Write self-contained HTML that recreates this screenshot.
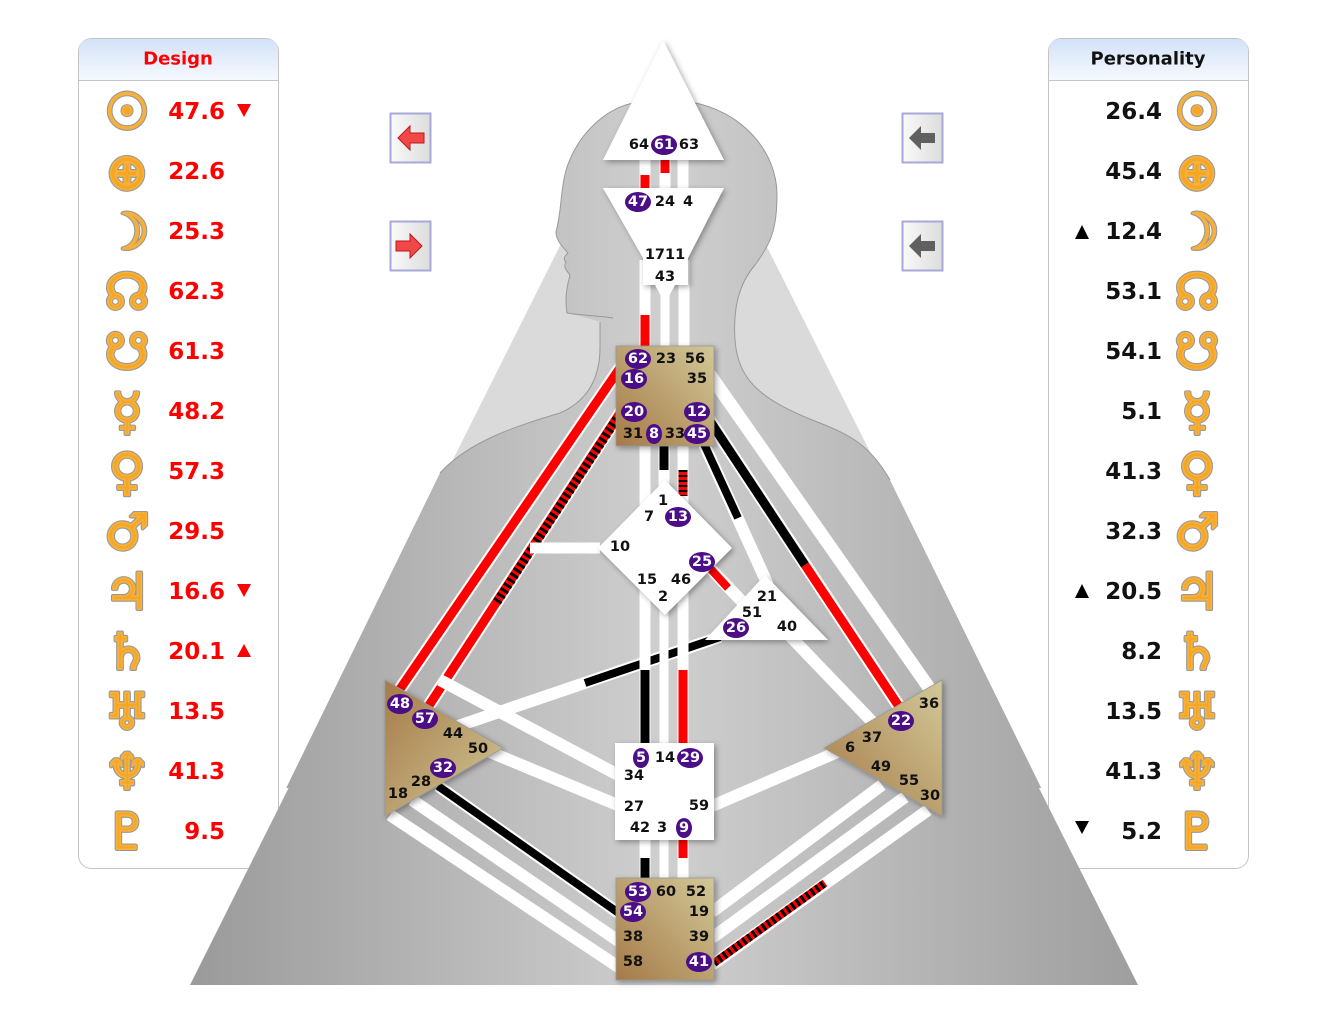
<!DOCTYPE html>
<html><head><meta charset="utf-8"><style>
html,body{margin:0;padding:0;background:#fff;}
svg{display:block;}
.g{font-family:"DejaVu Sans","Liberation Sans",sans-serif;font-weight:bold;font-size:14.5px;fill:#111;text-anchor:middle;dominant-baseline:central;}
.b{font-family:"DejaVu Sans","Liberation Sans",sans-serif;font-weight:bold;font-size:14.5px;fill:#fff;text-anchor:middle;dominant-baseline:central;}
.v{font-family:"DejaVu Sans","Liberation Sans",sans-serif;font-weight:bold;font-size:23px;dominant-baseline:central;}
.p{font-family:"DejaVu Sans",sans-serif;font-weight:bold;font-size:50px;text-anchor:middle;dominant-baseline:central;}
.po{fill:#999;stroke:#999;stroke-width:4;stroke-linejoin:round;}
.pi{fill:#f5a623;stroke:#f7b03a;stroke-width:1.8;stroke-linejoin:round;}
</style></head><body>
<svg width="1338" height="1017" viewBox="0 0 1338 1017" xmlns="http://www.w3.org/2000/svg">
<defs>
<linearGradient id="body" x1="0" x2="1" y1="0" y2="0" gradientUnits="userSpaceOnUse" gradientTransform="translate(190,0) scale(948,1)">
<stop offset="0" stop-color="#9a9a9a"/><stop offset="0.5" stop-color="#cfcfcf"/><stop offset="1" stop-color="#9e9e9e"/>
</linearGradient>
<linearGradient id="tan" x1="1" y1="0" x2="0" y2="1">
<stop offset="0" stop-color="#d2c898"/><stop offset="1" stop-color="#a57a48"/>
</linearGradient>
<linearGradient id="tanL" x1="0" y1="0" x2="1" y2="1">
<stop offset="0" stop-color="#a57a48"/><stop offset="1" stop-color="#d2c898"/>
</linearGradient>
<linearGradient id="tanR" x1="0" y1="1" x2="1" y2="0">
<stop offset="0" stop-color="#a57a48"/><stop offset="1" stop-color="#d2c898"/>
</linearGradient>
<linearGradient id="hdr" x1="0" x2="0" y1="0" y2="1">
<stop offset="0" stop-color="#d3e2f7"/><stop offset="1" stop-color="#f6f9ff"/>
</linearGradient>
<linearGradient id="btn" x1="0" x2="1"><stop offset="0" stop-color="#fafafa"/><stop offset="1" stop-color="#dcdcdc"/></linearGradient>
<filter id="sh" x="-30%" y="-30%" width="160%" height="160%"><feDropShadow dx="2" dy="2" stdDeviation="3" flood-color="#000" flood-opacity="0.35"/></filter>
<clipPath id="upper"><rect x="0" y="0" width="1338" height="788"/></clipPath>
<clipPath id="lower"><rect x="0" y="788" width="1338" height="300"/></clipPath>
</defs>

<g clip-path="url(#upper)">
<polygon points="190,985 663,40 1138,985" fill="#dadada"/>
<path d="M190,985 L440,473 C470,440 520,425 560,413 C590,400 600,375 600,347 L600,322 C590,318 578,316 567,313 C565,300 566,290 570,275 C566,270 563,266 566,262 C562,258 566,255 568,253 C562,246 556,240 556,232 C562,210 560,190 567,167 C580,130 610,105 640,102 L690,102 C740,110 777,150 777,195 C777,230 770,245 755,265 C738,285 733,310 735,340 C738,380 760,400 820,423 C850,435 870,445 890,480 L1138,985 Z" fill="url(#body)"/>
</g>
<path d="M440,473 C470,440 520,425 560,413 C590,400 600,375 600,347 L600,322 M613,318 C600,316 580,315 567,313 C565,300 566,290 570,275 C566,270 563,266 566,262 C562,258 566,255 568,253 C562,246 556,240 556,232 C562,210 560,190 567,167 C580,130 610,105 640,102 L690,102 C740,110 777,150 777,195 C777,230 770,245 755,265 C738,285 733,310 735,340 C738,380 760,400 820,423 C850,435 870,445 890,480" fill="none" stroke="#999" stroke-width="1"/>

<!-- panels -->
<rect x="78.5" y="38.5" width="200" height="830" rx="13" fill="#fff" stroke="#c4c4c4"/>
<path d="M79,80 L79,51 Q79,39 91,39 L266,39 Q278,39 278,51 L278,80 Z" fill="url(#hdr)"/>
<line x1="79" y1="80.5" x2="278" y2="80.5" stroke="#c4c4c4"/>
<text x="178" y="59" font-family="DejaVu Sans,sans-serif" font-weight="bold" font-size="18" fill="#f00" text-anchor="middle" dominant-baseline="central">Design</text>

<rect x="1048.5" y="38.5" width="200" height="830" rx="13" fill="#fff" stroke="#c4c4c4"/>
<path d="M1049,80 L1049,51 Q1049,39 1061,39 L1236,39 Q1248,39 1248,51 L1248,80 Z" fill="url(#hdr)"/>
<line x1="1049" y1="80.5" x2="1248" y2="80.5" stroke="#c4c4c4"/>
<text x="1148" y="59" font-family="DejaVu Sans,sans-serif" font-weight="bold" font-size="18" fill="#111" text-anchor="middle" dominant-baseline="central">Personality</text>

<g clip-path="url(#lower)">
<polygon points="190,985 663,40 1138,985" fill="url(#body)"/>
</g>

<!-- ===== channels ===== -->
<g stroke-linecap="butt" fill="none">
<line x1="645" y1="158" x2="645" y2="190" stroke="#fff" stroke-width="11"/>
<line x1="665" y1="158" x2="665" y2="190" stroke="#fff" stroke-width="11"/>
<line x1="683" y1="158" x2="683" y2="190" stroke="#fff" stroke-width="11"/>
<line x1="645" y1="175" x2="645" y2="188" stroke="#f00" stroke-width="9"/>
<line x1="665" y1="160" x2="665" y2="173" stroke="#f00" stroke-width="9"/>
<line x1="645" y1="260" x2="645" y2="348" stroke="#fff" stroke-width="11"/>
<line x1="665" y1="285" x2="665" y2="348" stroke="#fff" stroke-width="9"/>
<line x1="684" y1="260" x2="684" y2="348" stroke="#fff" stroke-width="11"/>
<line x1="645" y1="315" x2="645" y2="348" stroke="#f00" stroke-width="9"/>

<line x1="398" y1="692" x2="622" y2="365" stroke="#fff" stroke-width="13"/>
<line x1="398" y1="692" x2="622" y2="365" stroke="#f00" stroke-width="9"/>
<line x1="428" y1="707" x2="622" y2="410" stroke="#fff" stroke-width="13"/>
<line x1="428" y1="707" x2="622" y2="410" stroke="#f00" stroke-width="9"/>
<line x1="497" y1="602" x2="618" y2="417" stroke="#000" stroke-width="9" stroke-dasharray="3 3"/>
<line x1="530" y1="548" x2="600" y2="548" stroke="#fff" stroke-width="11"/>
<line x1="440" y1="680" x2="620" y2="776" stroke="#fff" stroke-width="12"/>
<line x1="455" y1="727" x2="720" y2="637" stroke="#fff" stroke-width="12"/>
<line x1="585" y1="683" x2="720" y2="637" stroke="#000" stroke-width="8"/>
<line x1="490" y1="752" x2="620" y2="806" stroke="#fff" stroke-width="12"/>
<line x1="390" y1="815" x2="620" y2="968" stroke="#fff" stroke-width="12"/>
<line x1="412" y1="800" x2="620" y2="942" stroke="#fff" stroke-width="12"/>
<line x1="438" y1="786" x2="620" y2="914" stroke="#fff" stroke-width="12"/>
<line x1="438" y1="786" x2="620" y2="914" stroke="#000" stroke-width="8"/>

<line x1="645" y1="444" x2="645" y2="505" stroke="#fff" stroke-width="11"/>
<line x1="664" y1="444" x2="664" y2="490" stroke="#fff" stroke-width="11"/>
<line x1="683" y1="444" x2="683" y2="505" stroke="#fff" stroke-width="11"/>
<line x1="664" y1="444" x2="664" y2="470" stroke="#000" stroke-width="9"/>
<line x1="683" y1="470" x2="683" y2="496" stroke="#f00" stroke-width="9"/>
<line x1="683" y1="470" x2="683" y2="496" stroke="#000" stroke-width="9" stroke-dasharray="2 3"/>
<line x1="645" y1="590" x2="645" y2="745" stroke="#fff" stroke-width="11"/>
<line x1="664" y1="600" x2="664" y2="745" stroke="#fff" stroke-width="9"/>
<line x1="683" y1="590" x2="683" y2="745" stroke="#fff" stroke-width="11"/>
<line x1="645" y1="670" x2="645" y2="745" stroke="#000" stroke-width="9"/>
<line x1="683" y1="670" x2="683" y2="745" stroke="#f00" stroke-width="9"/>
<line x1="645" y1="838" x2="645" y2="880" stroke="#fff" stroke-width="11"/>
<line x1="664" y1="838" x2="664" y2="880" stroke="#fff" stroke-width="9"/>
<line x1="683" y1="838" x2="683" y2="880" stroke="#fff" stroke-width="11"/>
<line x1="645" y1="858" x2="645" y2="880" stroke="#000" stroke-width="9"/>
<line x1="683" y1="838" x2="683" y2="858" stroke="#f00" stroke-width="9"/>

<line x1="708" y1="372" x2="932" y2="692" stroke="#fff" stroke-width="13"/>
<line x1="708" y1="418" x2="898" y2="705" stroke="#fff" stroke-width="13"/>
<line x1="708" y1="418" x2="805" y2="565" stroke="#000" stroke-width="9"/>
<line x1="805" y1="565" x2="898" y2="705" stroke="#f00" stroke-width="9"/>
<line x1="704" y1="444" x2="768" y2="585" stroke="#fff" stroke-width="12"/>
<line x1="704" y1="444" x2="738" y2="518" stroke="#000" stroke-width="8"/>
<line x1="708" y1="566" x2="752" y2="612" stroke="#fff" stroke-width="12"/>
<line x1="708" y1="566" x2="728" y2="588" stroke="#f00" stroke-width="8"/>
<line x1="790" y1="636" x2="882" y2="732" stroke="#fff" stroke-width="12"/>
<line x1="712" y1="806" x2="842" y2="750" stroke="#fff" stroke-width="12"/>
<line x1="712" y1="912" x2="882" y2="785" stroke="#fff" stroke-width="12"/>
<line x1="712" y1="938" x2="905" y2="797" stroke="#fff" stroke-width="12"/>
<line x1="712" y1="965" x2="928" y2="810" stroke="#fff" stroke-width="12"/>
<line x1="714" y1="963" x2="825" y2="883" stroke="#f00" stroke-width="8"/>
<line x1="714" y1="963" x2="825" y2="883" stroke="#000" stroke-width="8" stroke-dasharray="3 3"/>
</g>

<!-- ===== centers ===== -->
<g filter="url(#sh)">
<polygon points="663,40 724,160 603,160" fill="#fff"/>
<polygon points="603,188 724,188 688,258 688,285 643,285 643,258" fill="#fff"/>
<rect x="616" y="346" width="98" height="100" fill="url(#tan)" stroke="#999" stroke-width="0.8"/>
<polygon points="665,480 732,548 665,615 598,548" fill="#fff"/>
<polygon points="765,575 828,640 705,640" fill="#fff"/>
<polygon points="385,680 503,748 385,816" fill="url(#tanL)" stroke="#999" stroke-width="0.8"/>
<polygon points="942,680 942,816 824,748" fill="url(#tanR)" stroke="#999" stroke-width="0.8"/>
<rect x="615" y="743" width="99" height="97" fill="#fff"/>
<rect x="616" y="878" width="98" height="102" fill="url(#tan)" stroke="#999" stroke-width="0.8"/>
</g>
<polygon points="655,285 675,285 668,298 662,298" fill="#fff"/>

<!-- ===== gate labels ===== -->
<g>
<ellipse cx="664" cy="145" rx="13" ry="10" fill="#4b0e86"/>
<text class="g" x="639" y="145">64</text><text class="b" x="664" y="145">61</text><text class="g" x="689" y="145">63</text>
<ellipse cx="638" cy="202" rx="13" ry="10" fill="#4b0e86"/>
<text class="b" x="638" y="202">47</text><text class="g" x="665" y="202">24</text><text class="g" x="688" y="202">4</text>
<text class="g" x="665" y="255">1711</text><text class="g" x="665" y="277">43</text>

<ellipse cx="638" cy="359" rx="13" ry="10" fill="#4b0e86"/><text class="b" x="638" y="359">62</text>
<text class="g" x="666" y="359">23</text><text class="g" x="695" y="359">56</text>
<ellipse cx="634" cy="379" rx="13" ry="10" fill="#4b0e86"/><text class="b" x="634" y="379">16</text>
<text class="g" x="697" y="379">35</text>
<ellipse cx="634" cy="412" rx="13" ry="10" fill="#4b0e86"/><text class="b" x="634" y="412">20</text>
<ellipse cx="697" cy="412" rx="13" ry="10" fill="#4b0e86"/><text class="b" x="697" y="412">12</text>
<text class="g" x="633" y="434">31</text>
<ellipse cx="654" cy="434" rx="8" ry="10" fill="#4b0e86"/><text class="b" x="654" y="434">8</text>
<text class="g" x="675" y="434">33</text>
<ellipse cx="697" cy="434" rx="13" ry="10" fill="#4b0e86"/><text class="b" x="697" y="434">45</text>

<text class="g" x="663" y="501">1</text><text class="g" x="649" y="517">7</text>
<ellipse cx="678" cy="517" rx="13" ry="10" fill="#4b0e86"/><text class="b" x="678" y="517">13</text>
<text class="g" x="620" y="547">10</text>
<ellipse cx="702" cy="562" rx="13" ry="10" fill="#4b0e86"/><text class="b" x="702" y="562">25</text>
<text class="g" x="647" y="580">15</text><text class="g" x="681" y="580">46</text><text class="g" x="663" y="597">2</text>

<text class="g" x="767" y="597">21</text><text class="g" x="752" y="613">51</text>
<ellipse cx="736" cy="628" rx="13" ry="10" fill="#4b0e86"/><text class="b" x="736" y="628">26</text>
<text class="g" x="787" y="627">40</text>

<ellipse cx="400" cy="704" rx="13" ry="10" fill="#4b0e86"/><text class="b" x="400" y="704">48</text>
<ellipse cx="425" cy="719" rx="13" ry="10" fill="#4b0e86"/><text class="b" x="425" y="719">57</text>
<text class="g" x="453" y="734">44</text><text class="g" x="478" y="749">50</text>
<ellipse cx="443" cy="768" rx="13" ry="10" fill="#4b0e86"/><text class="b" x="443" y="768">32</text>
<text class="g" x="421" y="782">28</text><text class="g" x="398" y="794">18</text>

<text class="g" x="929" y="704">36</text>
<ellipse cx="901" cy="721" rx="13" ry="10" fill="#4b0e86"/><text class="b" x="901" y="721">22</text>
<text class="g" x="872" y="738">37</text><text class="g" x="850" y="748">6</text>
<text class="g" x="881" y="767">49</text><text class="g" x="909" y="781">55</text><text class="g" x="930" y="796">30</text>

<ellipse cx="641" cy="758" rx="8" ry="10" fill="#4b0e86"/><text class="b" x="641" y="758">5</text>
<text class="g" x="665" y="758">14</text>
<ellipse cx="690" cy="758" rx="13" ry="10" fill="#4b0e86"/><text class="b" x="690" y="758">29</text>
<text class="g" x="634" y="776">34</text>
<text class="g" x="634" y="807">27</text><text class="g" x="699" y="806">59</text>
<text class="g" x="640" y="828">42</text><text class="g" x="662" y="828">3</text>
<ellipse cx="684" cy="828" rx="8" ry="10" fill="#4b0e86"/><text class="b" x="684" y="828">9</text>

<ellipse cx="638" cy="892" rx="13" ry="10" fill="#4b0e86"/><text class="b" x="638" y="892">53</text>
<text class="g" x="666" y="892">60</text><text class="g" x="696" y="892">52</text>
<ellipse cx="633" cy="912" rx="13" ry="10" fill="#4b0e86"/><text class="b" x="633" y="912">54</text>
<text class="g" x="699" y="912">19</text>
<text class="g" x="633" y="937">38</text><text class="g" x="699" y="937">39</text>
<text class="g" x="633" y="962">58</text>
<ellipse cx="699" cy="962" rx="13" ry="10" fill="#4b0e86"/><text class="b" x="699" y="962">41</text>
</g>

<!-- nav buttons -->
<g>
<rect x="390.5" y="113.5" width="40" height="49" fill="url(#btn)" stroke="#a8a8d8" stroke-width="2"/>
<polygon points="398,138 410,126 410,133 424,133 424,143 410,143 410,150" fill="#f04848" stroke="#c01818"/>
<rect x="390.5" y="221.5" width="40" height="49" fill="url(#btn)" stroke="#a8a8d8" stroke-width="2"/>
<polygon points="422,246 410,234 410,241 396,241 396,251 410,251 410,258" fill="#f04848" stroke="#c01818"/>
<rect x="902.5" y="113.5" width="40" height="49" fill="url(#btn)" stroke="#a8a8d8" stroke-width="2"/>
<polygon points="909,138 921,126 921,133 935,133 935,143 921,143 921,150" fill="#606060"/>
<rect x="902.5" y="221.5" width="40" height="49" fill="url(#btn)" stroke="#a8a8d8" stroke-width="2"/>
<polygon points="909,246 921,234 921,241 935,241 935,251 921,251 921,258" fill="#606060"/>
</g>

<!-- Design glyphs -->
<g class="p po">
<text x="127" y="112">☉</text><text x="127" y="172">⊕</text><text x="127" y="232">☽</text><text x="127" y="292">☊</text><text x="127" y="352">☋</text><text x="127" y="412">☿</text><text x="127" y="472">♀</text><text x="127" y="532">♂</text><text x="127" y="592">♃</text><text x="127" y="652">♄</text><text x="127" y="712">♅</text><text x="127" y="772">♆</text><text x="127" y="832">♇</text>
</g>
<g class="p pi">
<text x="127" y="112">☉</text><text x="127" y="172">⊕</text><text x="127" y="232">☽</text><text x="127" y="292">☊</text><text x="127" y="352">☋</text><text x="127" y="412">☿</text><text x="127" y="472">♀</text><text x="127" y="532">♂</text><text x="127" y="592">♃</text><text x="127" y="652">♄</text><text x="127" y="712">♅</text><text x="127" y="772">♆</text><text x="127" y="832">♇</text>
</g>
<g>
<text class="v" x="225" y="112" fill="#f00" text-anchor="end">47.6</text>
<text class="v" x="225" y="172" fill="#f00" text-anchor="end">22.6</text>
<text class="v" x="225" y="232" fill="#f00" text-anchor="end">25.3</text>
<text class="v" x="225" y="292" fill="#f00" text-anchor="end">62.3</text>
<text class="v" x="225" y="352" fill="#f00" text-anchor="end">61.3</text>
<text class="v" x="225" y="412" fill="#f00" text-anchor="end">48.2</text>
<text class="v" x="225" y="472" fill="#f00" text-anchor="end">57.3</text>
<text class="v" x="225" y="532" fill="#f00" text-anchor="end">29.5</text>
<text class="v" x="225" y="592" fill="#f00" text-anchor="end">16.6</text>
<text class="v" x="225" y="652" fill="#f00" text-anchor="end">20.1</text>
<text class="v" x="225" y="712" fill="#f00" text-anchor="end">13.5</text>
<text class="v" x="225" y="772" fill="#f00" text-anchor="end">41.3</text>
<text class="v" x="225" y="832" fill="#f00" text-anchor="end">9.5</text>
</g>
<polygon points="237,104 251,104 244,117" fill="#f00"/>
<polygon points="237,584 251,584 244,597" fill="#f00"/>
<polygon points="237,657 251,657 244,644" fill="#f00"/>

<!-- Personality glyphs -->
<g class="p po">
<text x="1197" y="112">☉</text><text x="1197" y="172">⊕</text><text x="1197" y="232">☽</text><text x="1197" y="292">☊</text><text x="1197" y="352">☋</text><text x="1197" y="412">☿</text><text x="1197" y="472">♀</text><text x="1197" y="532">♂</text><text x="1197" y="592">♃</text><text x="1197" y="652">♄</text><text x="1197" y="712">♅</text><text x="1197" y="772">♆</text><text x="1197" y="832">♇</text>
</g>
<g class="p pi">
<text x="1197" y="112">☉</text><text x="1197" y="172">⊕</text><text x="1197" y="232">☽</text><text x="1197" y="292">☊</text><text x="1197" y="352">☋</text><text x="1197" y="412">☿</text><text x="1197" y="472">♀</text><text x="1197" y="532">♂</text><text x="1197" y="592">♃</text><text x="1197" y="652">♄</text><text x="1197" y="712">♅</text><text x="1197" y="772">♆</text><text x="1197" y="832">♇</text>
</g>
<g>
<text class="v" x="1162" y="112" fill="#111" text-anchor="end">26.4</text>
<text class="v" x="1162" y="172" fill="#111" text-anchor="end">45.4</text>
<text class="v" x="1162" y="232" fill="#111" text-anchor="end">12.4</text>
<text class="v" x="1162" y="292" fill="#111" text-anchor="end">53.1</text>
<text class="v" x="1162" y="352" fill="#111" text-anchor="end">54.1</text>
<text class="v" x="1162" y="412" fill="#111" text-anchor="end">5.1</text>
<text class="v" x="1162" y="472" fill="#111" text-anchor="end">41.3</text>
<text class="v" x="1162" y="532" fill="#111" text-anchor="end">32.3</text>
<text class="v" x="1162" y="592" fill="#111" text-anchor="end">20.5</text>
<text class="v" x="1162" y="652" fill="#111" text-anchor="end">8.2</text>
<text class="v" x="1162" y="712" fill="#111" text-anchor="end">13.5</text>
<text class="v" x="1162" y="772" fill="#111" text-anchor="end">41.3</text>
<text class="v" x="1162" y="832" fill="#111" text-anchor="end">5.2</text>
</g>
<polygon points="1075,239 1089,239 1082,225" fill="#000"/>
<polygon points="1075,598 1089,598 1082,584" fill="#000"/>
<polygon points="1075,821 1089,821 1082,834" fill="#000"/>
</svg>
</body></html>
